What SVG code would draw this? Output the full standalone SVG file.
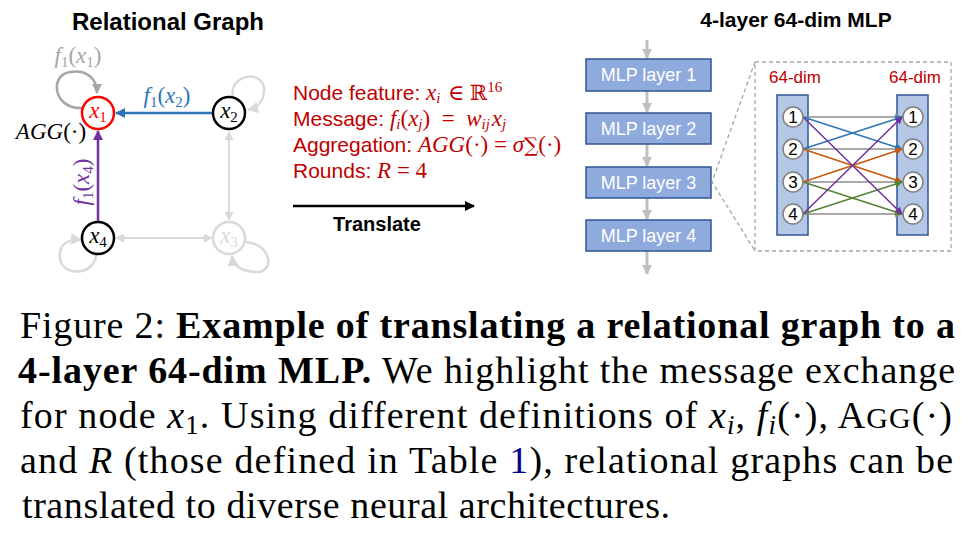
<svg xmlns="http://www.w3.org/2000/svg" width="978" height="548" viewBox="0 0 978 548">
<style>
.title{font-family:"Liberation Sans",Arial,sans-serif;font-weight:bold;fill:#000}
.m{font-family:"Liberation Serif","DejaVu Serif",serif;font-style:italic}
.rm{font-family:"Liberation Serif","DejaVu Serif",serif}
.red{font-family:"Liberation Sans",Arial,sans-serif;font-size:21px;fill:#C00000}
.node{fill:#fff;stroke-width:2.5}
.lbl{font-family:"Liberation Serif","DejaVu Serif",serif;font-size:23px;text-anchor:middle}
.box rect{fill:#8FAADC;stroke:#2F5597;stroke-width:1.5}
.box text{font-family:"Liberation Sans",Arial,sans-serif;font-size:18px;fill:#fff;text-anchor:middle}
.col{fill:#B4C7E7;stroke:#2F5597;stroke-width:1.5}
.neu circle{fill:#fff;stroke:#7F7F7F;stroke-width:1.5}
.neu text{font-family:"Liberation Sans",Arial,sans-serif;font-size:17px;fill:#000;text-anchor:middle}
.dim{font-family:"Liberation Sans",Arial,sans-serif;font-size:17px;fill:#C00000;text-anchor:middle}
.cap{font-family:"Liberation Serif","Times New Roman",serif;font-size:38px;fill:#000}
.b{font-weight:bold}
</style>
<defs>
<marker id="aBlue" viewBox="0 0 10 10" refX="9" refY="5" markerWidth="4" markerHeight="4" orient="auto"><path d="M0,0L10,5L0,10z" fill="#2E75B6"/></marker>
<marker id="aPur" viewBox="0 0 10 10" refX="9" refY="5" markerWidth="4" markerHeight="4" orient="auto"><path d="M0,0L10,5L0,10z" fill="#7030A0"/></marker>
<marker id="aGray" viewBox="0 0 10 10" refX="9" refY="5" markerWidth="4" markerHeight="4" orient="auto"><path d="M0,0L10,5L0,10z" fill="#A6A6A6"/></marker>
<marker id="aLt" viewBox="0 0 10 10" refX="9" refY="5" markerWidth="4.5" markerHeight="4.5" orient="auto-start-reverse"><path d="M0,0L10,5L0,10z" fill="#D9D9D9"/></marker>
<marker id="aBlk" viewBox="0 0 10 10" refX="9" refY="5" markerWidth="4" markerHeight="4" orient="auto"><path d="M0,0L10,5L0,10z" fill="#000"/></marker>
<marker id="aFlow" viewBox="0 0 10 10" refX="9" refY="5" markerWidth="3.5" markerHeight="3.5" orient="auto"><path d="M0,0L10,5L0,10z" fill="#BFBFBF"/></marker>
<marker id="eGray" viewBox="0 0 10 10" refX="9" refY="5" markerWidth="5" markerHeight="5" orient="auto"><path d="M0,0L10,5L0,10z" fill="#8C8C8C"/></marker>
<marker id="eBlue" viewBox="0 0 10 10" refX="9" refY="5" markerWidth="5" markerHeight="5" orient="auto"><path d="M0,0L10,5L0,10z" fill="#2E75B6"/></marker>
<marker id="eOr" viewBox="0 0 10 10" refX="9" refY="5" markerWidth="5" markerHeight="5" orient="auto"><path d="M0,0L10,5L0,10z" fill="#C55A11"/></marker>
<marker id="eGr" viewBox="0 0 10 10" refX="9" refY="5" markerWidth="5" markerHeight="5" orient="auto"><path d="M0,0L10,5L0,10z" fill="#548235"/></marker>
<marker id="ePu" viewBox="0 0 10 10" refX="9" refY="5" markerWidth="5" markerHeight="5" orient="auto"><path d="M0,0L10,5L0,10z" fill="#7030A0"/></marker>
</defs>

<!-- Relational graph -->
<text class="title" x="168" y="30" font-size="24" text-anchor="middle">Relational Graph</text>

<g id="connectors-graph" fill="none">
  <path d="M83 108 C53 110 49 75 70 72 C88 69 97 80 97 93" stroke="#A6A6A6" stroke-width="2.5" marker-end="url(#aGray)"/>
  <path d="M233 97 C228 74 266 68 264 92 C263 103 256 108 248 110" stroke="#D9D9D9" stroke-width="2.5" marker-end="url(#aLt)"/>
  <path d="M246 242 C274 245 274 274 255 272 C240 271 233 265 232 256" stroke="#D9D9D9" stroke-width="2.5" marker-end="url(#aLt)"/>
  <path d="M96 255 C95 275 62 278 60 258 C58 243 70 239 81 240" stroke="#D9D9D9" stroke-width="2.5" marker-end="url(#aLt)"/>
  <line x1="213" y1="113" x2="116" y2="113" stroke="#2E75B6" stroke-width="2.5" marker-end="url(#aBlue)"/>
  <line x1="98" y1="222" x2="98" y2="131" stroke="#7030A0" stroke-width="2.5" marker-end="url(#aPur)"/>
  <line x1="229" y1="132" x2="229" y2="220" stroke="#D9D9D9" stroke-width="2" marker-start="url(#aLt)" marker-end="url(#aLt)"/>
  <line x1="116" y1="238" x2="212" y2="238" stroke="#D9D9D9" stroke-width="2" marker-start="url(#aLt)" marker-end="url(#aLt)"/>
</g>

<g id="edge-labels">
  <text class="lbl" x="78" y="63" fill="#A6A6A6"><tspan class="m">f</tspan><tspan font-size="15" dy="4">1</tspan><tspan dy="-4">(</tspan><tspan class="m">x</tspan><tspan font-size="15" dy="4">1</tspan><tspan dy="-4">)</tspan></text>
  <text class="lbl" x="167" y="103" fill="#2E75B6"><tspan class="m">f</tspan><tspan font-size="15" dy="4">1</tspan><tspan dy="-4">(</tspan><tspan class="m">x</tspan><tspan font-size="15" dy="4">2</tspan><tspan dy="-4">)</tspan></text>
  <text class="lbl" transform="translate(89 182) rotate(-90)" fill="#7030A0"><tspan class="m">f</tspan><tspan font-size="15" dy="4">1</tspan><tspan dy="-4">(</tspan><tspan class="m">x</tspan><tspan font-size="15" dy="4">4</tspan><tspan dy="-4">)</tspan></text>
  <text class="lbl" x="51" y="139" fill="#000"><tspan class="m">AGG</tspan>(·)</text>
</g>

<g id="node-x1"><circle class="node" cx="98" cy="113" r="16" stroke="#FF0000"/><text class="lbl" x="98" y="118" fill="#FF0000"><tspan class="m">x</tspan><tspan font-size="15" dy="4">1</tspan></text></g>
<g id="node-x2"><circle class="node" cx="229" cy="113" r="16" stroke="#000"/><text class="lbl" x="229" y="118" fill="#000"><tspan class="m">x</tspan><tspan font-size="15" dy="4">2</tspan></text></g>
<g id="node-x4"><circle class="node" cx="98" cy="238" r="16" stroke="#000"/><text class="lbl" x="98" y="243" fill="#000"><tspan class="m">x</tspan><tspan font-size="15" dy="4">4</tspan></text></g>
<g id="node-x3"><circle class="node" cx="229" cy="238" r="16" stroke="#D9D9D9"/><text class="lbl" x="229" y="243" fill="#D9D9D9"><tspan class="m">x</tspan><tspan font-size="15" dy="4">3</tspan></text></g>

<!-- Definitions -->
<g id="definitions">
  <text class="red" x="293" y="100">Node feature: <tspan class="m" font-size="23">x</tspan><tspan class="m" font-size="15" dy="3">i</tspan><tspan class="rm" dy="-3" dx="2" font-size="22">&#160;∈&#160;</tspan><tspan font-family="DejaVu Serif,serif" font-size="21">ℝ</tspan><tspan class="rm" font-size="15" dy="-8">16</tspan></text>
  <text class="red" x="293" y="126">Message: <tspan class="m" font-size="23">f</tspan><tspan class="m" font-size="15" dy="3">i</tspan><tspan class="rm" font-size="23" dy="-3">(</tspan><tspan class="m" font-size="23">x</tspan><tspan class="m" font-size="15" dy="3">j</tspan><tspan class="rm" font-size="23" dy="-3">)</tspan><tspan class="rm" font-size="23">&#160;&#160;=&#160;&#160;</tspan><tspan class="m" font-size="23">w</tspan><tspan class="m" font-size="15" dy="3">ij</tspan><tspan class="m" font-size="23" dy="-3" dx="2">x</tspan><tspan class="m" font-size="15" dy="3">j</tspan></text>
  <text class="red" x="293" y="152">Aggregation: <tspan class="m" font-size="23">AGG</tspan><tspan class="rm" font-size="23">(·)&#160;=&#160;</tspan><tspan class="m" font-size="23">σ</tspan><tspan font-family="DejaVu Serif,serif" font-size="20">∑</tspan><tspan class="rm" font-size="23">(·)</tspan></text>
  <text class="red" x="293" y="178">Rounds: <tspan class="m" font-size="23">R</tspan><tspan class="rm" font-size="23">&#160;=&#160;4</tspan></text>
</g>

<g id="translate">
  <line x1="293" y1="206" x2="474" y2="206" stroke="#000" stroke-width="2.5" marker-end="url(#aBlk)"/>
  <text class="title" x="377" y="231" font-size="20" text-anchor="middle">Translate</text>
</g>

<!-- MLP -->
<text class="title" x="796" y="27" font-size="21" text-anchor="middle">4-layer 64-dim MLP</text>

<g id="connectors-mlp" stroke="#BFBFBF" stroke-width="3" fill="none">
  <line x1="647" y1="40" x2="647" y2="58" marker-end="url(#aFlow)"/>
  <line x1="647" y1="91" x2="647" y2="112" marker-end="url(#aFlow)"/>
  <line x1="647" y1="144" x2="647" y2="166" marker-end="url(#aFlow)"/>
  <line x1="647" y1="198" x2="647" y2="219" marker-end="url(#aFlow)"/>
  <line x1="647" y1="251" x2="647" y2="274" marker-end="url(#aFlow)"/>
</g>

<g id="mlp-layer-1" class="box"><rect x="586" y="59" width="125" height="32"/><text x="648.5" y="81">MLP layer 1</text></g>
<g id="mlp-layer-2" class="box"><rect x="586" y="113" width="125" height="31"/><text x="648.5" y="135">MLP layer 2</text></g>
<g id="mlp-layer-3" class="box"><rect x="586" y="167" width="125" height="31"/><text x="648.5" y="189">MLP layer 3</text></g>
<g id="mlp-layer-4" class="box"><rect x="586" y="220" width="125" height="31"/><text x="648.5" y="242">MLP layer 4</text></g>

<g id="zoom-frame" fill="none" stroke="#A6A6A6" stroke-width="1.3" stroke-dasharray="4 3">
  <polyline points="755,62 712,182 755,251"/>
  <rect x="755" y="62" width="196" height="189"/>
</g>

<text class="dim" x="795" y="83">64-dim</text>
<text class="dim" x="915" y="83">64-dim</text>
<rect id="layer-in" class="col" x="777" y="95" width="31" height="140"/>
<rect id="layer-out" class="col" x="897" y="95" width="31" height="140"/>

<g id="connectors-neurons" stroke-width="1.5" fill="none">
  <line x1="803" y1="117" x2="902" y2="117" stroke="#8C8C8C" marker-end="url(#eGray)"/>
  <line x1="803" y1="149" x2="902" y2="149" stroke="#8C8C8C" marker-end="url(#eGray)"/>
  <line x1="803" y1="182" x2="902" y2="182" stroke="#8C8C8C" marker-end="url(#eGray)"/>
  <line x1="803" y1="214" x2="902" y2="214" stroke="#8C8C8C" marker-end="url(#eGray)"/>
  <line x1="803" y1="117" x2="902" y2="149" stroke="#2E75B6" marker-end="url(#eBlue)"/>
  <line x1="803" y1="149" x2="902" y2="117" stroke="#2E75B6" marker-end="url(#eBlue)"/>
  <line x1="803" y1="149" x2="902" y2="182" stroke="#C55A11" marker-end="url(#eOr)"/>
  <line x1="803" y1="182" x2="902" y2="149" stroke="#C55A11" marker-end="url(#eOr)"/>
  <line x1="803" y1="182" x2="902" y2="214" stroke="#548235" marker-end="url(#eGr)"/>
  <line x1="803" y1="214" x2="902" y2="182" stroke="#548235" marker-end="url(#eGr)"/>
  <line x1="803" y1="117" x2="902" y2="214" stroke="#7030A0" marker-end="url(#ePu)"/>
  <line x1="803" y1="214" x2="902" y2="117" stroke="#7030A0" marker-end="url(#ePu)"/>
</g>

<g id="in-1" class="neu"><circle cx="793" cy="117" r="10"/><text x="793" y="123">1</text></g>
<g id="in-2" class="neu"><circle cx="793" cy="149" r="10"/><text x="793" y="155">2</text></g>
<g id="in-3" class="neu"><circle cx="793" cy="182" r="10"/><text x="793" y="188">3</text></g>
<g id="in-4" class="neu"><circle cx="793" cy="214" r="10"/><text x="793" y="220">4</text></g>
<g id="out-1" class="neu"><circle cx="913" cy="117" r="10"/><text x="913" y="123">1</text></g>
<g id="out-2" class="neu"><circle cx="913" cy="149" r="10"/><text x="913" y="155">2</text></g>
<g id="out-3" class="neu"><circle cx="913" cy="182" r="10"/><text x="913" y="188">3</text></g>
<g id="out-4" class="neu"><circle cx="913" cy="214" r="10"/><text x="913" y="220">4</text></g>

<!-- Caption -->
<g id="caption">
  <text class="cap" x="20" y="338" textLength="935" lengthAdjust="spacing">Figure 2: <tspan class="b">Example of translating a relational graph to a</tspan></text>
  <text class="cap" x="18" y="383" textLength="937" lengthAdjust="spacing"><tspan class="b">4-layer 64-dim MLP.</tspan> We highlight the message exchange</text>
  <text class="cap" x="20" y="428" textLength="932" lengthAdjust="spacing">for node <tspan font-style="italic">x</tspan><tspan font-size="27" dy="6">1</tspan><tspan dy="-6">. Using different definitions of </tspan><tspan font-style="italic">x</tspan><tspan font-style="italic" font-size="27" dy="6">i</tspan><tspan dy="-6">, </tspan><tspan font-style="italic">f</tspan><tspan font-style="italic" font-size="27" dy="6">i</tspan><tspan dy="-6">(·), A</tspan><tspan font-size="30">GG</tspan>(·)</text>
  <text class="cap" x="20" y="473" textLength="933" lengthAdjust="spacing">and <tspan font-style="italic">R</tspan> (those defined in Table <tspan fill="#00008B">1</tspan>), relational graphs can be</text>
  <text class="cap" x="22" y="518" textLength="648" lengthAdjust="spacing">translated to diverse neural architectures.</text>
</g>
</svg>
